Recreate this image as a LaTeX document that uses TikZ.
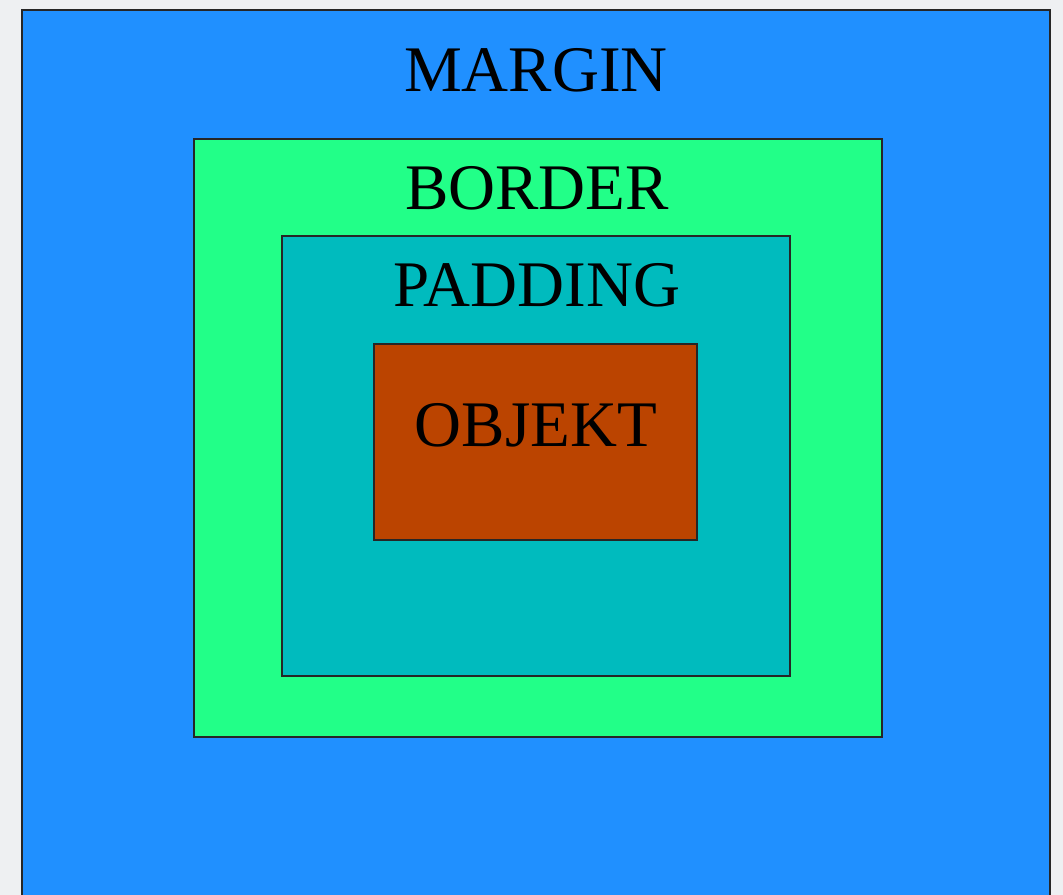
\documentclass[tikz,border=0pt]{standalone}
\usepackage{fontspec}
\setmainfont{Liberation Serif}
\definecolor{pagegray}{RGB}{238,240,242}
\definecolor{marginblue}{RGB}{32,144,255}
\definecolor{bordergreen}{RGB}{34,255,136}
\definecolor{paddingteal}{RGB}{0,187,190}
\definecolor{objektorange}{RGB}{187,68,0}

\begin{document}
\begin{tikzpicture}[x=0.2mm, y=-0.2mm,
      layer/.style={draw=black!85, line width=0.6pt},
      label/.style={anchor=base, inner sep=0pt, text=black,
        font=\fontsize{37}{40}\selectfont}]
    % page and margins of the picture
    \fill[pagegray] (0,0) rectangle (1063,895);
    \useasboundingbox (0,0) rectangle (1063,895);

    % the nested boxes
    \draw[layer, fill=marginblue, line width=1.2pt] (22,10) rectangle (1050,920);
    \draw[layer, fill=bordergreen] (194,139) rectangle (882,737);
    \draw[layer, fill=paddingteal] (282,236) rectangle (790,676);
    \draw[layer, fill=objektorange] (374,344) rectangle (697,540);

    % names of the boxes
    \node[label] (margin) at (536,92) {MARGIN};
    \node[label] (border) at (537,210) {BORDER};
    \node[label] (padding) at (537,307) {PADDING};
    \node[label] (objekt) at (536,447) {OBJEKT};
  \end{tikzpicture}
\end{document}
